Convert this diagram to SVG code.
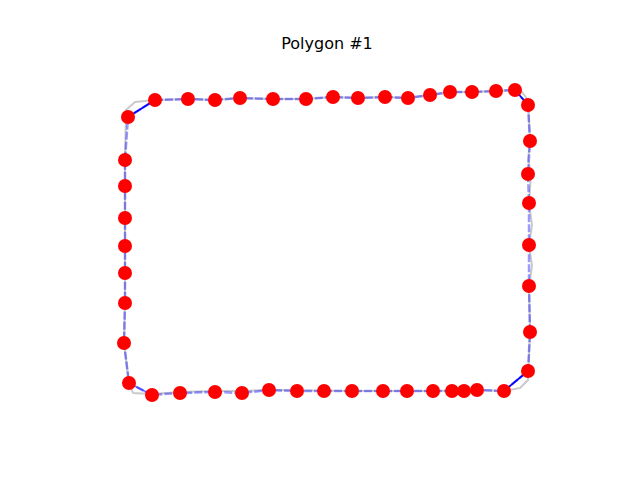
<svg xmlns="http://www.w3.org/2000/svg" width="640" height="480" viewBox="0 0 640 480">
<style>
.title{font-family:"DejaVu Sans",sans-serif;font-size:16px;fill:#000;text-anchor:middle}
.orig{fill:none;stroke:#b4b4b4;stroke-opacity:0.7;stroke-width:2;stroke-linejoin:round}
.poly{fill:none;stroke:#0000ff;stroke-opacity:0.4;stroke-width:2.5;stroke-dasharray:8,2}
.solid{fill:none;stroke:#0000ff;stroke-width:1.8}
.pt{fill:#ff0000}
</style>
<rect width="640" height="480" fill="#fff"/>
<text class="title" x="327" y="49">Polygon #1</text>
<g id="original">
<path class="orig" d="M155,100 L188,99 L215,100 L240,98 L273,99 L306,99 L333,97 L358,98 L385,97 L408,98 L430,95 L450,92 L472,92 L496,91 L515,90 L522,92 L528,100 L530,141 L528,160 L531,174 L529,203 L532,225 L529,245 L532,266 L529,286 L530,332 L528,380 L520,388 L504,391 L477,390 L433,391 L352,391 L269,390 L242,391 L215,391 L180,392 L152,394 L133,393 L129,383 L124,343 L125,303 L125,160 L126,110 L135,102 Z"/>
</g>
<g id="connectors">
<polyline class="poly" points="155,100 188,99 215,100 240,98 273,99 306,99 333,97 358,98 385,97 408,98 430,95 450,92 472,92 496,91 515,90 528,105 530,141 528,174 529,203 529,245 529,286 530,332 528,371 504,391 477,390 464,391 452,391 433,391 407,391 383,391 352,391 324,391 297,391 269,390 242,393 215,392 180,393 152,395 129,383 124,343 125,303 125,273 125,246 125,218 125,186 125,160 128,117 155,100"/>
<line class="solid" x1="128" y1="117" x2="155" y2="100"/>
<line class="solid" x1="515" y1="90" x2="528" y2="105"/>
<line class="solid" x1="528" y1="371" x2="504" y2="391"/>
<line class="solid" x1="129" y1="383" x2="152" y2="395" stroke-opacity="0.5"/>
</g>
<g id="points">
<circle class="pt" cx="155" cy="100" r="7"/><circle class="pt" cx="188" cy="99" r="7"/><circle class="pt" cx="215" cy="100" r="7"/><circle class="pt" cx="240" cy="98" r="7"/><circle class="pt" cx="273" cy="99" r="7"/><circle class="pt" cx="306" cy="99" r="7"/><circle class="pt" cx="333" cy="97" r="7"/><circle class="pt" cx="358" cy="98" r="7"/><circle class="pt" cx="385" cy="97" r="7"/><circle class="pt" cx="408" cy="98" r="7"/><circle class="pt" cx="430" cy="95" r="7"/><circle class="pt" cx="450" cy="92" r="7"/><circle class="pt" cx="472" cy="92" r="7"/><circle class="pt" cx="496" cy="91" r="7"/><circle class="pt" cx="515" cy="90" r="7"/>
<circle class="pt" cx="528" cy="105" r="7"/><circle class="pt" cx="530" cy="141" r="7"/><circle class="pt" cx="528" cy="174" r="7"/><circle class="pt" cx="529" cy="203" r="7"/><circle class="pt" cx="529" cy="245" r="7"/><circle class="pt" cx="529" cy="286" r="7"/><circle class="pt" cx="530" cy="332" r="7"/><circle class="pt" cx="528" cy="371" r="7"/>
<circle class="pt" cx="504" cy="391" r="7"/><circle class="pt" cx="477" cy="390" r="7"/><circle class="pt" cx="464" cy="391" r="7"/><circle class="pt" cx="452" cy="391" r="7"/><circle class="pt" cx="433" cy="391" r="7"/><circle class="pt" cx="407" cy="391" r="7"/><circle class="pt" cx="383" cy="391" r="7"/><circle class="pt" cx="352" cy="391" r="7"/><circle class="pt" cx="324" cy="391" r="7"/><circle class="pt" cx="297" cy="391" r="7"/><circle class="pt" cx="269" cy="390" r="7"/><circle class="pt" cx="242" cy="393" r="7"/><circle class="pt" cx="215" cy="392" r="7"/><circle class="pt" cx="180" cy="393" r="7"/><circle class="pt" cx="152" cy="395" r="7"/>
<circle class="pt" cx="129" cy="383" r="7"/><circle class="pt" cx="124" cy="343" r="7"/><circle class="pt" cx="125" cy="303" r="7"/><circle class="pt" cx="125" cy="273" r="7"/><circle class="pt" cx="125" cy="246" r="7"/><circle class="pt" cx="125" cy="218" r="7"/><circle class="pt" cx="125" cy="186" r="7"/><circle class="pt" cx="125" cy="160" r="7"/><circle class="pt" cx="128" cy="117" r="7"/>
</g>
</svg>
